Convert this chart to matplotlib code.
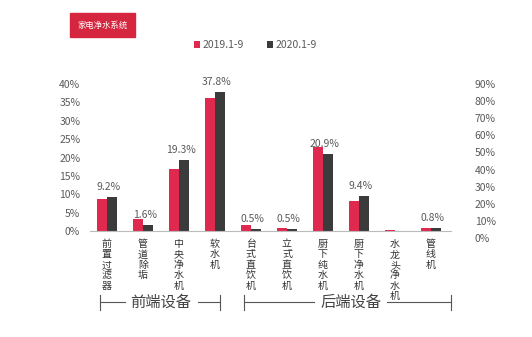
import matplotlib
matplotlib.use("Agg")
import matplotlib.pyplot as plt
from matplotlib.lines import Line2D
import numpy as np

plt.rcParams['font.family'] = ['Noto Sans CJK SC', 'DejaVu Sans']

categories = ["前置过滤器", "管道除垢", "中央净水机", "软水机", "台式直饮机",
              "立式直饮机", "厨下纯水机", "厨下净水机", "水龙头净水机", "管线机"]
share_2019 = [8.7, 3.3, 16.9, 36.2, 1.6, 0.8, 22.9, 8.3, 0.2, 0.8]
share_2020 = [9.2, 1.6, 19.3, 37.8, 0.5, 0.5, 20.9, 9.4, 0.1, 0.8]
value_labels = ["9.2%", "1.6%", "19.3%", "37.8%", "0.5%", "0.5%",
                "20.9%", "9.4%", "", "0.8%"]
left_ticks = [0, 5, 10, 15, 20, 25, 30, 35, 40]
right_ticks = [0, 10, 20, 30, 40, 50, 60, 70, 80, 90]

red = "#e0294f"
dark = "#3b3b3b"
grey = "#5a5a5a"

fig = plt.figure(figsize=(5.32, 3.37), dpi=100)
ax = fig.add_axes([0.169, 0.3145, 0.679, 0.436])

x = np.arange(len(categories))
w = 0.27
ax.bar(x - w / 2, share_2019, w, color=red, label="2019.1-9")
ax.bar(x + w / 2, share_2020, w, color=dark, label="2020.1-9")

for xi, v, lab in zip(x, share_2020, value_labels):
    if lab:
        ax.annotate(lab, (xi + 0.05, v), xytext=(0, 4), textcoords="offset points",
                    ha="center", va="bottom", fontsize=7.5, color=grey)

ax.set_xlim(-0.47, 9.56)
ax.set_ylim(0, 40)
ax.set_yticks(left_ticks)
ax.set_yticklabels([f"{t}%" for t in left_ticks], fontsize=7.5, color=grey)
ax.tick_params(axis="y", length=0, pad=7)
ax.set_xticks([])
for s in ["top", "left", "right"]:
    ax.spines[s].set_visible(False)
ax.spines["bottom"].set_color("#bbbbbb")

# vertical category names, one character per row
for xi, name in zip(x, categories):
    for i, ch in enumerate(name):
        ax.annotate(ch, (xi, 0), xytext=(0, -(13 + i * 10.4) * 0.72),
                    textcoords="offset points", ha="center", va="center",
                    fontsize=7.2, color="#333333")

# right-hand scale
ax2 = fig.add_axes([0.169, 0.2938, 0.679, 0.457])
ax2.patch.set_visible(False)
ax2.set_ylim(0, 90)
ax2.set_xticks([])
ax2.yaxis.tick_right()
ax2.set_yticks(right_ticks)
ax2.set_yticklabels([f"{t}%" for t in right_ticks], fontsize=7.5, color=grey)
ax2.tick_params(axis="y", length=0, pad=17)
for s in ax2.spines.values():
    s.set_visible(False)

fig.legend(loc="center", bbox_to_anchor=(0.48, 0.866), ncol=2, frameon=False,
           fontsize=7.5, handlelength=0.6, handleheight=0.6, handletextpad=0.2,
           columnspacing=2.2, labelcolor=grey)

# title badge
fig.text(0.193, 0.926, "家电净水系统", fontsize=6, color="white", ha="center",
         va="center", bbox=dict(boxstyle="square,pad=0.85", fc="#d6263f", ec="#d6263f"))

# group brackets
W, H = 532, 337
def px(xp, yp):
    return xp / W, 1 - yp / H

def bracket(x0, x1, t0, t1, label, xc):
    for xa, xb in [(x0, t0), (t1, x1)]:
        a, b = px(xa, 302), px(xb, 302)
        fig.add_artist(Line2D([a[0], b[0]], [a[1], b[1]], color="#555555", lw=0.8))
    for xv in (x0, x1):
        a, b = px(xv, 295), px(xv, 310)
        fig.add_artist(Line2D([a[0], b[0]], [a[1], b[1]], color="#555555", lw=0.8))
    c = px(xc, 302)
    fig.text(c[0], c[1], label, fontsize=11, color="#444444", ha="center", va="center")

bracket(100, 220, 125, 198, "前端设备", 161)
bracket(244, 451, 314, 387, "后端设备", 351)

fig.savefig("out.png", dpi=100)
